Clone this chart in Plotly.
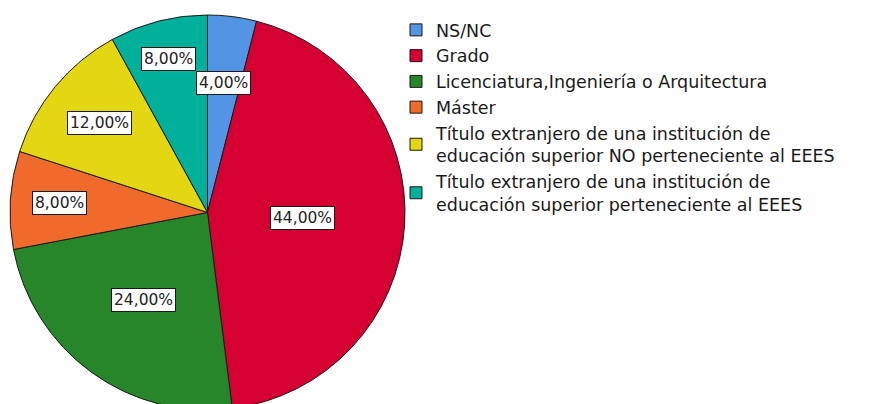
import math
import plotly.graph_objects as go

# ---- data ----
categories = [
    "NS/NC",
    "Grado",
    "Licenciatura,Ingeniería o Arquitectura",
    "Máster",
    "Título extranjero de una institución de<br>educación superior NO perteneciente al EEES",
    "Título extranjero de una institución de<br>educación superior perteneciente al EEES",
]
percentages = [4.00, 44.00, 24.00, 8.00, 12.00, 8.00]

# ---- style ----
colors = ["#5494E4", "#D50032", "#27852A", "#F06B2B", "#E2D712", "#00B09B"]
label_radius_frac = [0.66, 0.48, 0.55, 0.75, 0.71, 0.80]

FIG_W, FIG_H = 888, 410
M_L, M_T, M_R, M_B = 10, 15, 0, 0
PLOT_W = FIG_W - M_L - M_R
PLOT_H = FIG_H - M_T - M_B
PIE_D = 395  # pie diameter in px

dom_x = [0, PIE_D / PLOT_W]
dom_y = [0, 1]

fig = go.Figure(
    go.Pie(
        labels=categories,
        values=percentages,
        sort=False,
        direction="clockwise",
        rotation=0,
        marker=dict(colors=colors, line=dict(color="#1a1a1a", width=1)),
        textinfo="none",
        hoverinfo="label+percent",
        domain=dict(x=dom_x, y=dom_y),
    )
)

# value labels with white boxes, positioned from the data angles
total = sum(percentages)
cx = (dom_x[0] + dom_x[1]) / 2
cy = 0.5
R_px = PIE_D / 2
cum = 0.0
annotations = []
for v, frac in zip(percentages, label_radius_frac):
    mid = (cum + v / 2) / total * 2 * math.pi
    cum += v
    dx_px = math.sin(mid) * R_px * frac
    dy_px = math.cos(mid) * R_px * frac
    txt = f"{v / total * 100:.2f}".replace(".", ",") + "%"
    annotations.append(
        dict(
            x=cx + dx_px / PLOT_W,
            y=cy + dy_px / PLOT_H,
            xref="paper",
            yref="paper",
            text=txt,
            showarrow=False,
            xanchor="center",
            yanchor="middle",
            font=dict(family="DejaVu Sans", size=15.5, color="#222222"),
            bgcolor="white",
            bordercolor="#1a1a1a",
            borderwidth=1,
            borderpad=2,
        )
    )

legend_left_px = 396
legend_top_px = 12
fig.update_layout(
    width=FIG_W,
    height=FIG_H,
    margin=dict(l=M_L, r=M_R, t=M_T, b=M_B, pad=0),
    paper_bgcolor="white",
    plot_bgcolor="white",
    showlegend=True,
    legend=dict(
        x=(legend_left_px - M_L) / PLOT_W,
        y=1 - (legend_top_px - M_T) / PLOT_H,
        xanchor="left",
        yanchor="top",
        maxheight=400,
        font=dict(family="DejaVu Sans", size=17.5, color="#1a1a1a"),
        tracegroupgap=0,
        itemwidth=30,
        bgcolor="rgba(0,0,0,0)",
    ),
    annotations=annotations,
)

fig.write_html(
    "out.html",
    config={"displayModeBar": False},
    post_script="document.body.style.margin='0';document.body.style.overflow='hidden';",
)
